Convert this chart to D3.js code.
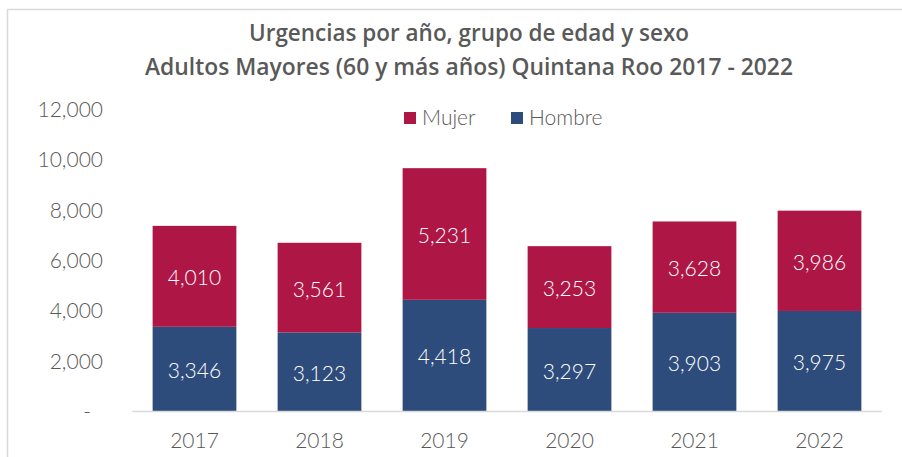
<!DOCTYPE html>
<html><head><meta charset="utf-8">
<script src="https://cdn.jsdelivr.net/npm/d3@7"></script>
<style>body{margin:0;background:#fff}svg{display:block}</style>
</head><body><div id="chart"></div>
<script>
const years = ["2017","2018","2019","2020","2021","2022"];
const hombre = [3346,3123,4418,3297,3903,3975];
const mujer = [4010,3561,5231,3253,3628,3986];
const yTicks = [0,2000,4000,6000,8000,10000,12000];
const seriesNames = ["Mujer","Hombre"];
const colors = {Mujer:"#AE1646", Hombre:"#2E4C7B"};
const titleLines = ["Urgencias por año, grupo de edad y sexo","Adultos Mayores (60 y más años) Quintana Roo 2017 - 2022"];

const W=902,H=457;
const svg=d3.select("#chart").append("svg").attr("width",W).attr("height",H);
svg.append("rect").attr("x",7.5).attr("y",9.5).attr("width",900).attr("height",460)
  .attr("fill","#fff").attr("stroke","#d9d9d9").attr("stroke-width",1.5);

const font="'Lato','Open Sans',sans-serif";
svg.selectAll("text.title").data(titleLines).enter().append("text")
  .attr("x",469).attr("y",(d,i)=>41+i*34).attr("text-anchor","middle")
  .attr("font-family","'Open Sans',sans-serif").attr("font-weight",600).attr("font-size",22.5)
  .attr("textLength",(d,i)=>i===0?440:648).attr("lengthAdjust","spacingAndGlyphs")
  .attr("fill","#595959").text(d=>d);

const x=d3.scaleBand().domain(years).range([132,882]).paddingInner(0.33).paddingOuter(0.165);
const y=d3.scaleLinear().domain([0,12000]).range([411,109]);

const data=years.map((yr,i)=>({year:yr,Hombre:hombre[i],Mujer:mujer[i]}));
const stack=d3.stack().keys(["Hombre","Mujer"])(data);

const g=svg.append("g");
stack.forEach(s=>{
  g.selectAll(null).data(s).enter().append("rect")
    .attr("x",d=>x(d.data.year)).attr("width",x.bandwidth())
    .attr("y",d=>y(d[1])).attr("height",d=>y(d[0])-y(d[1]))
    .attr("fill",colors[s.key]);
  g.selectAll(null).data(s).enter().append("text")
    .attr("x",d=>x(d.data.year)+x.bandwidth()/2).attr("y",d=>(y(d[0])+y(d[1]))/2+9)
    .attr("text-anchor","middle").attr("font-family",font).attr("font-weight",300)
    .attr("font-size",21).attr("fill","#fff").text(d=>d3.format(",")(d[1]-d[0]));
});

// axis line
svg.append("line").attr("x1",132).attr("x2",882).attr("y1",411.5).attr("y2",411.5)
  .attr("stroke","#d9d9d9").attr("stroke-width",1.5);

// y-axis labels
const yAxis=d3.axisLeft(y).tickValues(yTicks).tickSize(0).tickPadding(0)
  .tickFormat(d=>d===0?"-":d3.format(",")(d));
const ya=svg.append("g").attr("transform","translate(103,0)").call(yAxis);
ya.select(".domain").remove();
ya.selectAll("text").attr("font-family",font).attr("font-weight",300).attr("font-size",21)
  .attr("fill","#595959").attr("dy","0.35em").attr("x",d=>d===0?-12:0);

// x-axis labels
const xAxis=d3.axisBottom(x).tickSize(0).tickPadding(0);
const xa=svg.append("g").attr("transform","translate(0,433)").call(xAxis);
xa.select(".domain").remove();
xa.selectAll("text").attr("font-family",font).attr("font-weight",300).attr("font-size",21)
  .attr("fill","#595959").attr("dy","0.71em");

// legend
const legX=[404,511];
const lg=svg.selectAll("g.leg").data(seriesNames).enter().append("g")
  .attr("transform",(d,i)=>`translate(${legX[i]},112)`);
lg.append("rect").attr("width",12).attr("height",12).attr("fill",d=>colors[d]);
lg.append("text").attr("x",18).attr("y",13).attr("font-family",font).attr("font-weight",300)
  .attr("font-size",21).attr("fill","#595959").text(d=>d);
</script></body></html>
